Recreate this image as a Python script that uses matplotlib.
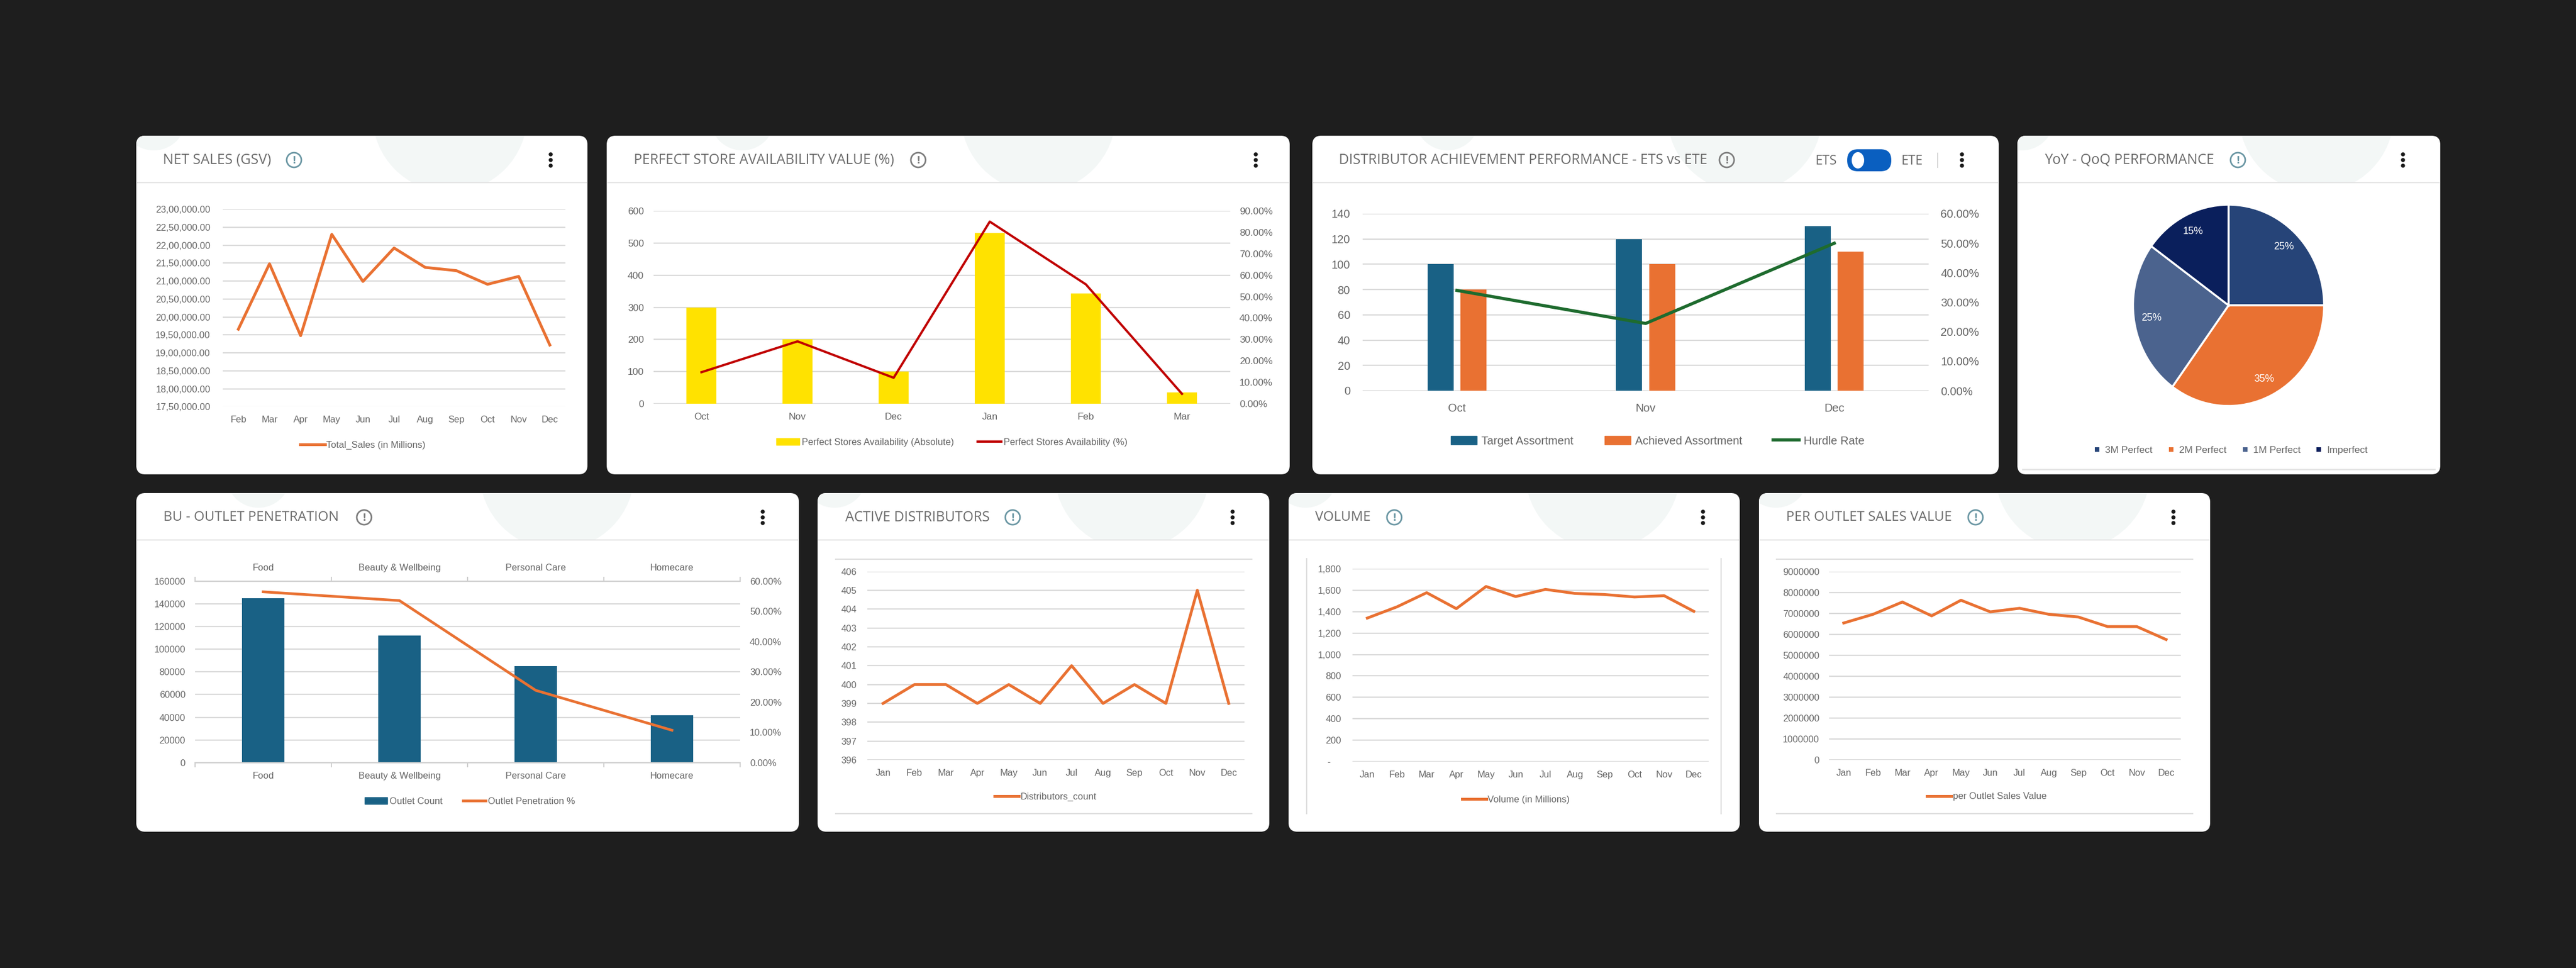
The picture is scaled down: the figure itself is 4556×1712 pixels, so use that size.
import matplotlib
matplotlib.use('Agg')
import matplotlib.pyplot as plt
from matplotlib import font_manager
from matplotlib.patches import FancyBboxPatch, Circle, Ellipse, Patch
from matplotlib.lines import Line2D
from matplotlib.ticker import FuncFormatter
import numpy as np

W, H, DPI = 4556, 1712, 100

_names = {f.name for f in font_manager.fontManager.ttflist}
def pick(*cands):
    for c in cands:
        if c in _names:
            return c
    return 'DejaVu Sans'
FONT = pick('Liberation Sans', 'Arimo', 'Roboto', 'DejaVu Sans')
TFONT = pick('Open Sans', 'Noto Sans', 'Lato', 'DejaVu Sans')
plt.rcParams['font.family'] = [FONT, 'DejaVu Sans']

# ---------------- data ----------------
sales_months = ['Feb', 'Mar', 'Apr', 'May', 'Jun', 'Jul', 'Aug', 'Sep', 'Oct', 'Nov', 'Dec']
sales_values = [1966000, 2148000, 1948000, 2230000, 2099000, 2192000,
                2138000, 2129000, 2091000, 2113000, 1922000]

psa_months = ['Oct', 'Nov', 'Dec', 'Jan', 'Feb', 'Mar']
psa_absolute = [300, 200, 100, 532, 343, 35]
psa_percent = [0.147, 0.291, 0.121, 0.850, 0.557, 0.046]

dist_months = ['Oct', 'Nov', 'Dec']
target_assortment = [100, 120, 130]
achieved_assortment = [80, 100, 110]
hurdle_rate = [0.34, 0.228, 0.50]

pie_labels = ['3M Perfect', '2M Perfect', '1M Perfect', 'Imperfect']
pie_values = [25, 35, 25, 15]

bu_categories = ['Food', 'Beauty & Wellbeing', 'Personal Care', 'Homecare']
outlet_count = [145000, 112000, 85000, 42000]
outlet_penetration = [0.565, 0.536, 0.239, 0.107]

months12 = ['Jan', 'Feb', 'Mar', 'Apr', 'May', 'Jun', 'Jul', 'Aug', 'Sep', 'Oct', 'Nov', 'Dec']
distributors_count = [399, 400, 400, 399, 400, 399, 401, 399, 400, 399, 405, 399]
volume_values = [1340, 1445, 1577, 1428, 1635, 1541, 1608, 1570, 1560, 1537, 1549, 1403]
per_outlet_sales = [6545000, 6960000, 7548000, 6886000, 7633000, 7078000,
                    7249000, 6960000, 6833000, 6374000, 6374000, 5754000]

# ---------------- styles ----------------
BG = '#1e1e1e'
GRID = '#d9d9d9'
TICK = '#666666'
TITLE_C = '#6b6b6b'
ORANGE = '#E97132'
BLUE = '#196185'
YELLOW = '#FFE200'
RED = '#C00000'
GREEN = '#1E6B2E'
PIE_COLORS = ['#264478', '#E97132', '#4B638E', '#0A1F5C']

fig = plt.figure(figsize=(W / DPI, H / DPI), dpi=DPI, facecolor=BG)
bg = fig.add_axes([0, 0, 1, 1])
bg.set_xlim(0, W)
bg.set_ylim(H, 0)
bg.axis('off')
bg.set_zorder(0)
renderer = fig.canvas.get_renderer()


def pt(px):
    return px * 72.0 / DPI


def xpad(dy, fs):
    return pt(dy - 0.55 * fs * DPI / 72.0)


def fit_text(x, y, s, width, family, color, ha='left'):
    t = bg.text(x, y, s, fontsize=20, family=family, color=color,
                va='center', ha=ha, zorder=5)
    w = t.get_window_extent(renderer=renderer).width
    t.set_fontsize(20 * width / w)
    return t


def panel(box, title, tx, tw, ix, kx, big_rel, small_rel, icon_c='#6a96a3'):
    x0, y0, x1, y1 = box
    w = x1 - x0
    bg.add_patch(FancyBboxPatch((x0, y0), w, y1 - y0,
                                boxstyle='round,pad=0,rounding_size=16',
                                fc='white', ec='none', zorder=1))
    head = FancyBboxPatch((x0, y0), w, 83,
                          boxstyle='round,pad=0,rounding_size=16',
                          fc='none', ec='none', transform=bg.transData)
    for (cx, cy, r) in [(x0 + big_rel * w, y0 - 37, 137), (x0 + small_rel, y0 - 31, 57)]:
        c = Circle((cx, cy), r, fc='#f3f7f6', ec='none', zorder=1.5)
        bg.add_patch(c)
        c.set_clip_path(head)
    bg.plot([x0 + 2, x1 - 2], [y0 + 83, y0 + 83], color='#e4e4e4', lw=1.6, zorder=2)
    ty = y0 + 43
    fit_text(tx, ty, title, tw, TFONT, TITLE_C)
    bg.add_patch(Circle((ix, ty), 13, fc='none', ec=icon_c, lw=2.0, zorder=3))
    bg.text(ix, ty + 1, '!', ha='center', va='center', fontsize=12,
            fontweight='bold', color=icon_c, family='DejaVu Sans', zorder=4)
    for dy in (-10, 0, 10):
        bg.add_patch(Circle((kx, ty + dy), 3.6, fc='#1a1a1a', ec='none', zorder=3))


def chart_ax(x0, x1, yt, yb, z=2):
    ax = fig.add_axes([x0 / W, 1 - yb / H, (x1 - x0) / W, (yb - yt) / H])
    ax.set_zorder(z)
    ax.patch.set_visible(False)
    for s in ax.spines.values():
        s.set_visible(False)
    ax.tick_params(length=0, colors=TICK, labelcolor=TICK)
    return ax


def ygrid(ax):
    ax.yaxis.grid(True, color=GRID, lw=1.6)
    ax.xaxis.grid(False)
    ax.set_axisbelow(True)


def legend(handles, labels, cx, cy, fs=12, hl=2.6, htp=0.15, cs=2.0, hh=0.7):
    fig.legend(handles, labels, loc='center', bbox_to_anchor=(cx / W, 1 - cy / H),
               ncol=len(handles), frameon=False, fontsize=fs, handlelength=hl,
               handletextpad=htp, columnspacing=cs, handleheight=hh,
               labelcolor=TICK, borderpad=0, borderaxespad=0)


def indian(v, pos=None):
    s = '%d' % int(round(v))
    last3, rest = s[-3:], s[:-3]
    parts = []
    while len(rest) > 2:
        parts.insert(0, rest[-2:])
        rest = rest[:-2]
    if rest:
        parts.insert(0, rest)
    return ','.join(parts + [last3]) + '.00'


pct2 = FuncFormatter(lambda v, p: '%.2f%%' % (v * 100))

# ---------------- panels ----------------
P1 = (241, 240, 1039, 839)
P2 = (1073, 240, 2281, 839)
P3 = (2321, 240, 3535, 839)
P4 = (3568, 240, 4316, 839)
P5 = (241, 872, 1413, 1471)
P6 = (1446, 872, 2245, 1471)
P7 = (2279, 872, 3077, 1471)
P8 = (3111, 872, 3909, 1471)

panel(P1, 'NET SALES (GSV)', 288, 191, 520, 974, 0.695, 31)
panel(P2, 'PERFECT STORE AVAILABILITY VALUE (%)', 1121, 461, 1624, 2221, 0.632, 240, '#7d7d7d')
panel(P3, 'DISTRIBUTOR ACHIEVEMENT PERFORMANCE - ETS vs ETE', 2368, 653, 3054, 3470, 0.630, 239, '#7d7d7d')
panel(P4, 'YoY - QoQ PERFORMANCE', 3616, 300, 3958, 4250, 0.707, 8)
panel(P5, 'BU - OUTLET PENETRATION', 289, 311, 644, 1349, 0.635, 216, '#7d7d7d')
panel(P6, 'ACTIVE DISTRIBUTORS', 1495, 255, 1791, 2180, 0.696, 30)
panel(P7, 'VOLUME', 2326, 98, 2466, 3012, 0.696, 30)
panel(P8, 'PER OUTLET SALES VALUE', 3159, 293, 3494, 3844, 0.695, 30)

# ETS / ETE toggle
fit_text(3211, 285, 'ETS', 38, TFONT, TITLE_C)
fit_text(3363, 285, 'ETE', 38, TFONT, TITLE_C)
bg.add_patch(FancyBboxPatch((3267, 264), 78, 39, boxstyle='round,pad=0,rounding_size=19',
                            fc='#0a5fc0', ec='none', zorder=3))
bg.add_patch(Ellipse((3286, 283.5), 22, 29, fc='white', ec='none', zorder=4))
bg.plot([3427, 3427], [271, 296], color='#d6d6d6', lw=1.5, zorder=3)

# decorative frame lines
bg.plot([3577, 4306], [830, 830], color='#e2e2e2', lw=1.8, zorder=2)
bg.plot([1478, 2214], [988.5, 988.5], color='#dedede', lw=1.6, zorder=2)
bg.plot([1478, 2214], [1439, 1439], color='#dedede', lw=1.6, zorder=2)
bg.plot([3142, 3878], [988.5, 988.5], color='#dedede', lw=1.6, zorder=2)
bg.plot([3142, 3878], [1438.5, 1438.5], color='#dedede', lw=1.6, zorder=2)
bg.plot([2311, 2311], [988, 1439], color='#dedede', lw=1.6, zorder=2)
bg.plot([3044, 3044], [988, 1439], color='#dedede', lw=1.6, zorder=2)

# ---- 1. Net sales ----
ax = chart_ax(394, 1000, 370, 719.5)
x = np.arange(len(sales_months))
ax.plot(x, sales_values, color=ORANGE, lw=3.6)
ax.set_xlim(-0.5, len(x) - 0.5)
ax.set_ylim(1750000, 2300000)
ax.set_yticks(np.arange(1750000, 2300001, 50000))
ax.yaxis.set_major_formatter(FuncFormatter(indian))
ax.set_xticks(x, sales_months)
ygrid(ax)
ax.tick_params(axis='y', pad=pt(22), labelsize=12)
ax.tick_params(axis='x', pad=xpad(24.5, 12), labelsize=12)
legend([Line2D([], [], color=ORANGE, lw=3.6)], ['Total_Sales (in Millions)'], 642, 787)

# ---- 2. Perfect store availability ----
ax = chart_ax(1155.6, 2175.5, 373, 714)
x = np.arange(len(psa_months))
ax.bar(x, psa_absolute, width=0.315, color=YELLOW, zorder=2)
ax.set_xlim(-0.5, len(x) - 0.5)
ax.set_ylim(0, 600)
ax.set_yticks(np.arange(0, 601, 100))
ax.set_xticks(x, psa_months)
ygrid(ax)
ax2 = ax.twinx()
ax2.set_zorder(3)
ax2.patch.set_visible(False)
for s in ax2.spines.values():
    s.set_visible(False)
ax2.plot(x, psa_percent, color=RED, lw=2.9)
ax2.set_ylim(0, 0.9)
ax2.set_yticks([i / 10 for i in range(10)])
ax2.yaxis.set_major_formatter(pct2)
ax2.tick_params(axis='y', length=0, colors=TICK, labelcolor=TICK, pad=pt(16.5), labelsize=12.5)
ax.tick_params(axis='y', length=0, pad=pt(16.6), labelsize=12.5)
ax.tick_params(axis='x', length=0, pad=xpad(26, 12.5), labelsize=12.5)
legend([Patch(color=YELLOW), Line2D([], [], color=RED, lw=2.9)],
       ['Perfect Stores Availability (Absolute)', 'Perfect Stores Availability (%)'],
       1683.5, 782, fs=12, hl=2.5, htp=0.25, cs=2.5)

# ---- 3. Distributor achievement ----
ax = chart_ax(2410, 3411, 378, 691)
x = np.arange(len(dist_months))
ax.bar(x - 0.087, target_assortment, width=0.138, color=BLUE, zorder=2)
ax.bar(x + 0.087, achieved_assortment, width=0.138, color=ORANGE, zorder=2)
ax.set_xlim(-0.5, len(x) - 0.5)
ax.set_ylim(0, 140)
ax.set_yticks(np.arange(0, 141, 20))
ax.set_xticks(x, dist_months)
ygrid(ax)
ax2 = ax.twinx()
ax2.set_zorder(3)
ax2.patch.set_visible(False)
for s in ax2.spines.values():
    s.set_visible(False)
ax2.plot(x, hurdle_rate, color=GREEN, lw=4.0)
ax2.set_ylim(0, 0.6)
ax2.set_yticks([i / 10 for i in range(7)])
ax2.yaxis.set_major_formatter(pct2)
ax2.tick_params(axis='y', length=0, colors=TICK, labelcolor=TICK, pad=pt(21), labelsize=14.5)
ax.tick_params(axis='y', length=0, pad=pt(22), labelsize=14.5)
ax.tick_params(axis='x', length=0, pad=xpad(33, 14.5), labelsize=14.5)
legend([Patch(color=BLUE), Patch(color=ORANGE), Line2D([], [], color=GREEN, lw=4.0)],
       ['Target Assortment', 'Achieved Assortment', 'Hurdle Rate'],
       2932, 780, fs=14.5, hl=2.3, htp=0.4, cs=2.7)

# ---- 4. Pie ----
pcx, pcy, rx, ry = 3941.5, 540, 169, 178
axp = fig.add_axes([(pcx - rx) / W, 1 - (pcy + ry) / H, 2 * rx / W, 2 * ry / H])
axp.set_zorder(2)
axp.patch.set_visible(False)
wedges, texts, autotexts = axp.pie(
    pie_values, colors=PIE_COLORS, startangle=90, counterclock=False,
    autopct=lambda p: '%.0f%%' % p, pctdistance=0.82,
    wedgeprops=dict(edgecolor='white', linewidth=2.5),
    textprops=dict(color='white', fontsize=13))
for wdg in wedges:
    wdg.set_clip_on(False)
axp.set_aspect('auto')
axp.set_xlim(-1, 1)
axp.set_ylim(-1, 1)
axp.axis('off')
legend([Line2D([], [], marker='s', ls='none', markersize=6, markeredgewidth=0,
               markerfacecolor=c) for c in PIE_COLORS],
       pie_labels, 3946, 796, fs=12.5, hl=0.6, htp=0.5, cs=1.6)

# ---- 5. BU outlet penetration ----
ax = chart_ax(345, 1309, 1028, 1348.7)
x = np.arange(len(bu_categories))
ax.bar(x, outlet_count, width=0.311, color=BLUE, zorder=2)
ax.set_xlim(-0.5, len(x) - 0.5)
ax.set_ylim(0, 160000)
ax.set_yticks(np.arange(0, 160001, 20000))
ax.set_xticks(x, bu_categories)
ax.set_xticks(np.arange(-0.5, len(x), 1.0), minor=True)
ygrid(ax)
for side in ('top', 'bottom'):
    ax.spines[side].set_visible(True)
    ax.spines[side].set_color('#d0d0d0')
    ax.spines[side].set_linewidth(1.6)
ax2 = ax.twinx()
ax2.set_zorder(3)
ax2.patch.set_visible(False)
for s in ax2.spines.values():
    s.set_visible(False)
ax2.plot(x, outlet_penetration, color=ORANGE, lw=3.4)
ax2.set_ylim(0, 0.6)
ax2.set_yticks([i / 10 for i in range(7)])
ax2.yaxis.set_major_formatter(pct2)
ax2.tick_params(axis='y', length=0, colors=TICK, labelcolor=TICK, pad=pt(17), labelsize=12)
ax.tick_params(axis='y', length=0, pad=pt(17), labelsize=12)
ax.tick_params(axis='x', which='major', length=0, pad=xpad(25.3, 12), labelsize=12,
               top=True, labeltop=True, bottom=True, labelbottom=True)
ax.tick_params(axis='x', which='minor', length=6, width=1.3, color='#c8c8c8',
               top=True, bottom=True, labeltop=False, labelbottom=False)
legend([Patch(color=BLUE), Line2D([], [], color=ORANGE, lw=3.4)],
       ['Outlet Count', 'Outlet Penetration %'], 831, 1417, fs=12, hl=2.4, htp=0.25, cs=2.2)

# ---- 6. Active distributors ----
ax = chart_ax(1534, 2201, 1010.7, 1344)
x = np.arange(len(months12))
ax.plot(x, distributors_count, color=ORANGE, lw=3.6)
ax.set_xlim(-0.5, len(x) - 0.5)
ax.set_ylim(396, 406)
ax.set_yticks(np.arange(396, 407, 1))
ax.set_xticks(x, months12)
ygrid(ax)
ax.tick_params(axis='y', pad=pt(19), labelsize=12)
ax.tick_params(axis='x', pad=xpad(25, 12), labelsize=12)
legend([Line2D([], [], color=ORANGE, lw=3.6)], ['Distributors_count'], 1849, 1409)

# ---- 7. Volume ----
ax = chart_ax(2392, 3022, 1006, 1347)
ax.plot(x, volume_values, color=ORANGE, lw=3.6)
ax.set_xlim(-0.5, len(x) - 0.5)
ax.set_ylim(0, 1800)
ax.set_yticks(np.arange(0, 1801, 200))
ax.yaxis.set_major_formatter(FuncFormatter(lambda v, p: '-    ' if v == 0 else '{:,.0f}'.format(v)))
ax.set_xticks(x, months12)
ygrid(ax)
ax.tick_params(axis='y', pad=pt(20), labelsize=12)
ax.tick_params(axis='x', pad=xpad(25.5, 12), labelsize=12)
legend([Line2D([], [], color=ORANGE, lw=3.6)], ['Volume (in Millions)'], 2681, 1414)

# ---- 8. Per outlet sales value ----
ax = chart_ax(3235, 3857, 1011, 1344)
ax.plot(x, per_outlet_sales, color=ORANGE, lw=3.6)
ax.set_xlim(-0.5, len(x) - 0.5)
ax.set_ylim(0, 9000000)
ax.set_yticks(np.arange(0, 9000001, 1000000))
ax.yaxis.set_major_formatter(FuncFormatter(lambda v, p: '%d' % int(round(v))))
ax.set_xticks(x, months12)
ygrid(ax)
ax.tick_params(axis='y', pad=pt(17), labelsize=12)
ax.tick_params(axis='x', pad=xpad(25, 12), labelsize=12)
legend([Line2D([], [], color=ORANGE, lw=3.6)], ['per Outlet Sales Value'], 3513.5, 1409)

fig.savefig('out.png', dpi=DPI, facecolor=BG)
